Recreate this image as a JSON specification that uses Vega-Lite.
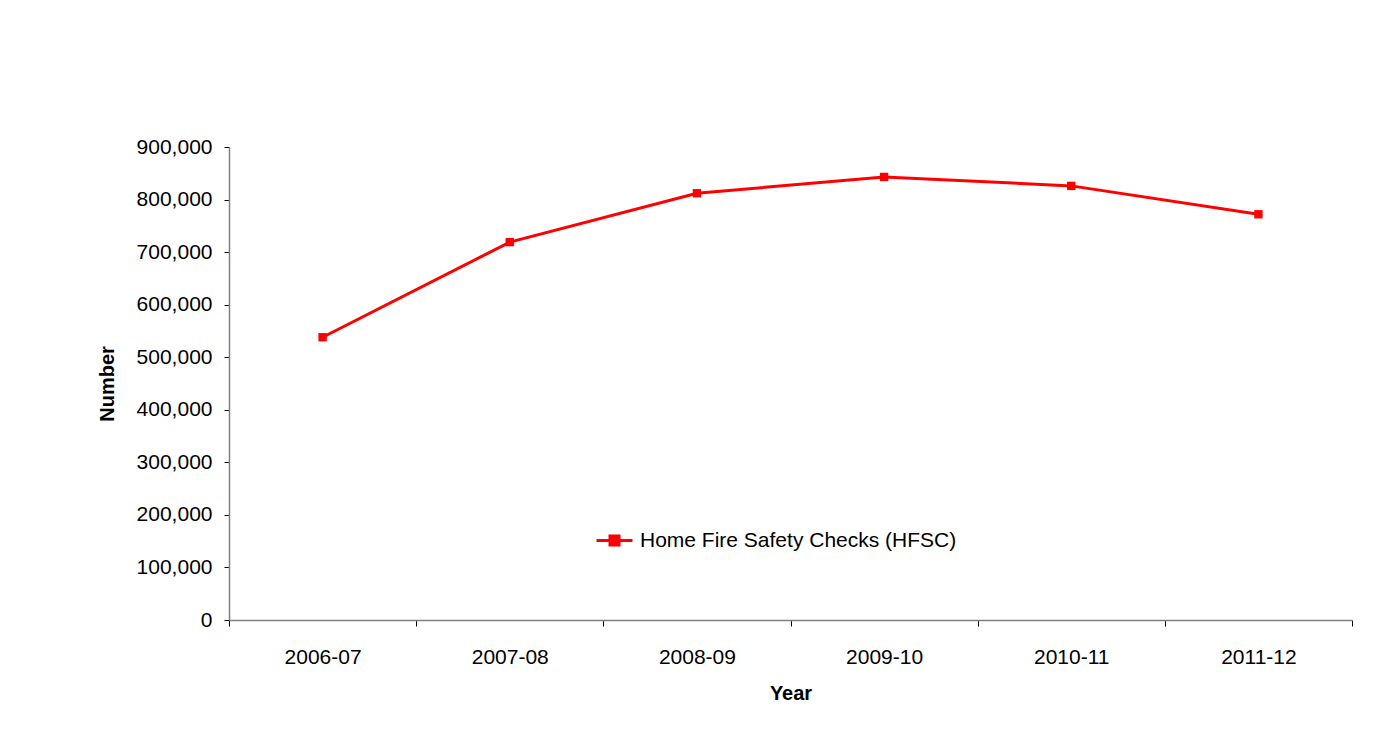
{
  "$schema": "https://vega.github.io/schema/vega-lite/v6.json",
  "autosize": "none",
  "width": 1123,
  "height": 473,
  "padding": {"left": 229, "top": 147, "right": 36, "bottom": 133},
  "background": "white",
  "config": {
    "font": "Liberation Sans",
    "view": {"stroke": null}
  },
  "data": {
    "values": [
      {"Year": "2006-07", "Number": 538000},
      {"Year": "2007-08", "Number": 719000},
      {"Year": "2008-09", "Number": 812000},
      {"Year": "2009-10", "Number": 843000},
      {"Year": "2010-11", "Number": 826000},
      {"Year": "2011-12", "Number": 772000}
    ]
  },
  "mark": {
    "type": "line",
    "strokeWidth": 3,
    "point": {"shape": "square", "filled": true, "size": 70, "color": "#ff0000"}
  },
  "encoding": {
    "x": {
      "field": "Year",
      "type": "ordinal",
      "title": "Year",
      "scale": {"paddingInner": 0, "paddingOuter": 0},
      "axis": {
        "labelAngle": 0,
        "labelFontSize": 21,
        "labelColor": "black",
        "labelPadding": 20,
        "tickBand": "extent",
        "tickSize": 6,
        "tickColor": "black",
        "domainColor": "#808080",
        "domainWidth": 1.5,
        "titleFontSize": 20,
        "titleFontWeight": "bold",
        "titleColor": "black",
        "titlePadding": 16
      }
    },
    "y": {
      "field": "Number",
      "type": "quantitative",
      "title": "Number",
      "scale": {"domain": [0, 900000]},
      "axis": {
        "values": [0, 100000, 200000, 300000, 400000, 500000, 600000, 700000, 800000, 900000],
        "format": ",d",
        "grid": false,
        "labelFontSize": 21,
        "labelColor": "black",
        "labelPadding": 12,
        "tickSize": 5,
        "tickColor": "black",
        "domainColor": "#808080",
        "domainWidth": 1.5,
        "titleFontSize": 20,
        "titleFontWeight": "bold",
        "titleColor": "black",
        "titlePadding": 19
      }
    },
    "color": {
      "datum": "Home Fire Safety Checks (HFSC)",
      "scale": {"range": ["#ff0000"]},
      "legend": {
        "title": null,
        "orient": "none",
        "legendX": 366,
        "legendY": 374,
        "labelFontSize": 21,
        "labelColor": "black",
        "labelLimit": 500,
        "labelOffset": 6,
        "symbolType": "M-1,0H1M-0.25,-0.25H0.25V0.25H-0.25Z",
        "symbolSize": 1296,
        "symbolStrokeWidth": 3,
        "symbolFillColor": "#ff0000",
        "symbolStrokeColor": "#ff0000"
      }
    }
  }
}
